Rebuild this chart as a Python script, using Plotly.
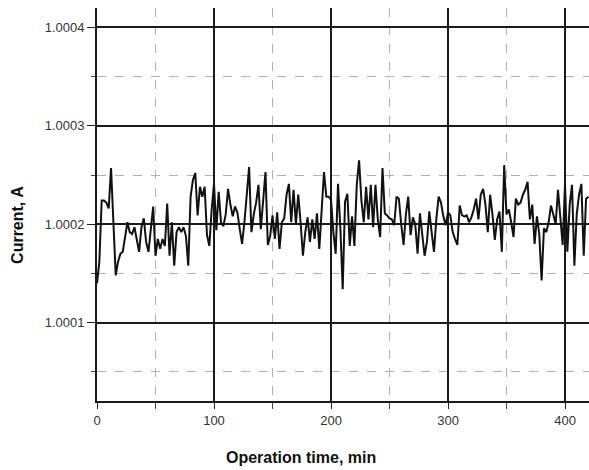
import plotly.graph_objects as go

# ---- data ----
time_min = [
    0, 2, 4, 6, 8, 10, 12, 14, 16, 18,
    20, 22, 24, 26, 28, 30, 32, 34, 36, 38,
    40, 42, 44, 46, 48, 50, 52, 54, 56, 58,
    60, 62, 64, 66, 68, 70, 72, 74, 76, 78,
    80, 82, 84, 86, 88, 90, 92, 94, 96, 98,
    100, 102, 104, 106, 108, 110, 112, 114, 116, 118,
    120, 122, 124, 126, 128, 130, 132, 134, 136, 138,
    140, 142, 144, 146, 148, 150, 152, 154, 156, 158,
    160, 162, 164, 166, 168, 170, 172, 174, 176, 178,
    180, 182, 184, 186, 188, 190, 192, 194, 196, 198,
    200, 202, 204, 206, 208, 210, 212, 214, 216, 218,
    220, 222, 224, 226, 228, 230, 232, 234, 236, 238,
    240, 242, 244, 246, 248, 250, 252, 254, 256, 258,
    260, 262, 264, 266, 268, 270, 272, 274, 276, 278,
    280, 282, 284, 286, 288, 290, 292, 294, 296, 298,
    300, 302, 304, 306, 308, 310, 312, 314, 316, 318,
    320, 322, 324, 326, 328, 330, 332, 334, 336, 338,
    340, 342, 344, 346, 348, 350, 352, 354, 356, 358,
    360, 362, 364, 366, 368, 370, 372, 374, 376, 378,
    380, 382, 384, 386, 388, 390, 392, 394, 396, 398,
    400, 402, 404, 406, 408, 410, 412, 414, 416, 418, 420,
]

current_A = [
    1.000140, 1.000162, 1.000224, 1.000224, 1.000222, 1.000216, 1.000257, 1.000202, 1.000148, 1.000162,
    1.000170, 1.000172, 1.000188, 1.000202, 1.000192, 1.000190, 1.000197, 1.000185, 1.000172, 1.000197,
    1.000206, 1.000182, 1.000172, 1.000195, 1.000218, 1.000168, 1.000185, 1.000175, 1.000185, 1.000178,
    1.000221, 1.000168, 1.000202, 1.000158, 1.000192, 1.000197, 1.000192, 1.000197, 1.000188, 1.000158,
    1.000228, 1.000245, 1.000252, 1.000209, 1.000238, 1.000228, 1.000238, 1.000189, 1.000178, 1.000215,
    1.000241, 1.000194, 1.000233, 1.000202, 1.000198, 1.000210, 1.000236, 1.000220, 1.000208, 1.000218,
    1.000212, 1.000195, 1.000180, 1.000202, 1.000230, 1.000258, 1.000192, 1.000210, 1.000222, 1.000240,
    1.000195, 1.000225, 1.000253, 1.000179, 1.000188, 1.000209, 1.000185, 1.000212, 1.000175, 1.000202,
    1.000206, 1.000230, 1.000241, 1.000202, 1.000235, 1.000200, 1.000230, 1.000202, 1.000168, 1.000192,
    1.000207, 1.000182, 1.000205, 1.000185, 1.000211, 1.000175, 1.000220, 1.000253, 1.000228, 1.000228,
    1.000225, 1.000192, 1.000170, 1.000241, 1.000196, 1.000134, 1.000223, 1.000231, 1.000178, 1.000208,
    1.000178, 1.000240, 1.000265, 1.000224, 1.000202, 1.000238, 1.000205, 1.000240, 1.000197, 1.000240,
    1.000205, 1.000187, 1.000257, 1.000211, 1.000209, 1.000206, 1.000205, 1.000199, 1.000228, 1.000226,
    1.000200, 1.000179, 1.000210, 1.000228, 1.000189, 1.000207, 1.000200, 1.000170, 1.000211, 1.000190,
    1.000168, 1.000182, 1.000213, 1.000192, 1.000172, 1.000205, 1.000228, 1.000222, 1.000208, 1.000199,
    1.000212, 1.000209, 1.000192, 1.000185, 1.000179, 1.000219, 1.000209, 1.000208, 1.000209, 1.000202,
    1.000207, 1.000215, 1.000226, 1.000205, 1.000230, 1.000236, 1.000220, 1.000192, 1.000230, 1.000210,
    1.000184, 1.000205, 1.000213, 1.000172, 1.000260, 1.000210, 1.000215, 1.000202, 1.000187, 1.000226,
    1.000220, 1.000222, 1.000230, 1.000235, 1.000243, 1.000205, 1.000220, 1.000180, 1.000208, 1.000190,
    1.000143, 1.000196, 1.000192, 1.000202, 1.000219, 1.000210, 1.000200, 1.000235, 1.000210, 1.000179,
    1.000240, 1.000172, 1.000220, 1.000240, 1.000158, 1.000210, 1.000230, 1.000241, 1.000168, 1.000226, 1.000228,
]

x_tick_vals = [0, 100, 200, 300, 400]
x_tick_text = ["0", "100", "200", "300", "400"]
x_minor_vals = [50, 150, 250, 350]
y_tick_vals = [1.0001, 1.0002, 1.0003, 1.0004]
y_tick_text = ["1.0001", "1.0002", "1.0003", "1.0004"]
y_minor_vals = [1.00005, 1.00015, 1.00025, 1.00035]

x_title = "Operation time, min"
y_title = "Current, A"

# ---- figure ----
fig = go.Figure()
fig.add_trace(go.Scatter(
    x=time_min, y=current_A, mode="lines",
    line=dict(color="#111111", width=2),
    showlegend=False, hoverinfo="skip",
))

tick_font = dict(family="Liberation Sans, Arial, sans-serif", size=13, color="#333333")
title_font = dict(family="Liberation Sans, Arial, sans-serif", size=16, color="#111111")

fig.update_layout(
    template="none",
    width=589, height=470,
    margin=dict(l=97, r=0, t=8, b=69, pad=0),
    paper_bgcolor="white", plot_bgcolor="white",
    xaxis=dict(
        range=[0, 420.5], automargin=False,
        tickmode="array", tickvals=x_tick_vals, ticktext=x_tick_text,
        ticks="outside", ticklen=6, tickwidth=1.3, tickcolor="#222222",
        showgrid=True, gridcolor="#1a1a1a", gridwidth=1.7,
        showline=True, linecolor="#1a1a1a", linewidth=1.8,
        zeroline=False, tickfont=tick_font,
        minor=dict(tickvals=x_minor_vals, ticks="outside", ticklen=6, tickwidth=1,
                   tickcolor="#444444", showgrid=True, gridcolor="#b0b0b0",
                   griddash="dash", gridwidth=1.2),
    ),
    yaxis=dict(
        range=[1.0000205, 1.0004196], automargin=False,
        tickmode="array", tickvals=y_tick_vals, ticktext=y_tick_text,
        ticks="outside", ticklen=8, tickwidth=1.3, tickcolor="#222222",
        showgrid=True, gridcolor="#1a1a1a", gridwidth=1.7,
        showline=True, linecolor="#1a1a1a", linewidth=1.8,
        zeroline=False, tickfont=tick_font,
        minor=dict(tickvals=y_minor_vals, ticks="outside", ticklen=4, tickwidth=1,
                   tickcolor="#444444", showgrid=True, gridcolor="#b0b0b0",
                   griddash="dash", gridwidth=1.2),
    ),
    annotations=[
        dict(text="<b>" + x_title + "</b>", xref="paper", yref="paper",
             x=0.4146, y=-0.145, xanchor="center", yanchor="middle",
             showarrow=False, font=title_font),
        dict(text="<b>" + y_title + "</b>", xref="paper", yref="paper",
             x=-0.1606, y=0.448, xanchor="center", yanchor="middle",
             textangle=-90, showarrow=False, font=title_font),
    ],
)

fig.write_html("out.html", config={"displayModeBar": False},
               post_script="document.body.style.margin='0';document.body.style.padding='0';")
